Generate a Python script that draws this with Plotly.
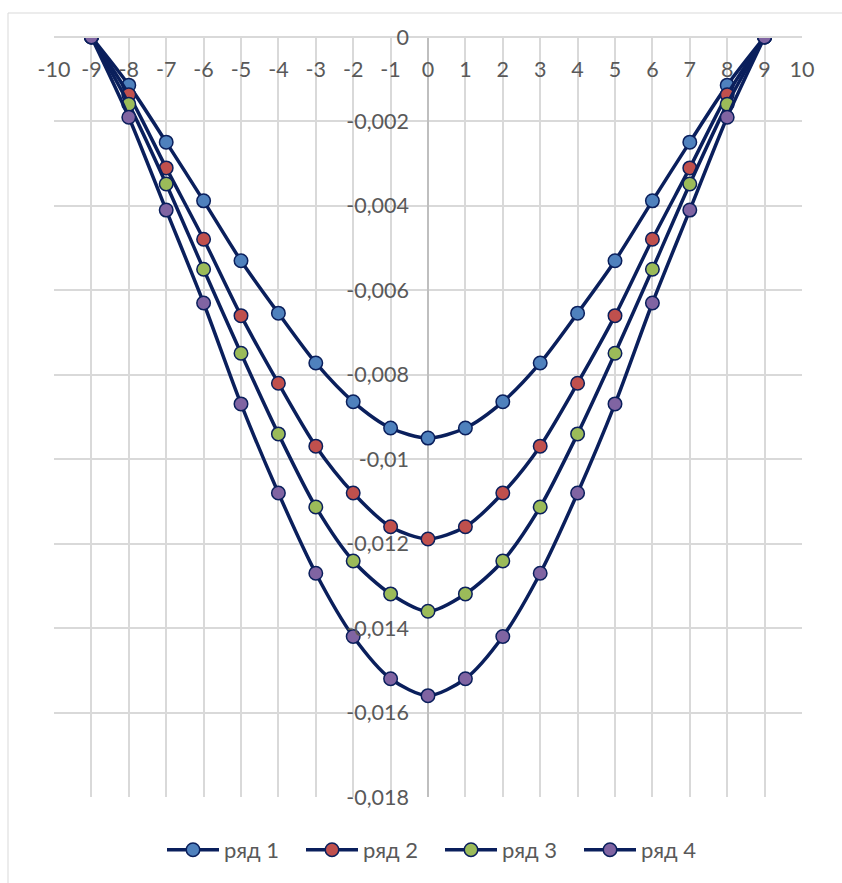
import plotly.graph_objects as go

x_vals = [-9, -8, -7, -6, -5, -4, -3, -2, -1, 0, 1, 2, 3, 4, 5, 6, 7, 8, 9]

series_names = ["ряд 1", "ряд 2", "ряд 3", "ряд 4"]

row1 = [0, -0.00114, -0.00249, -0.00388, -0.0053, -0.00654, -0.00772, -0.00864, -0.00926, -0.0095,
        -0.00926, -0.00864, -0.00772, -0.00654, -0.0053, -0.00388, -0.00249, -0.00114, 0]
row2 = [0, -0.00137, -0.0031, -0.00479, -0.0066, -0.0082, -0.00969, -0.0108, -0.0116, -0.01189,
        -0.0116, -0.0108, -0.00969, -0.0082, -0.0066, -0.00479, -0.0031, -0.00137, 0]
row3 = [0, -0.00159, -0.00348, -0.0055, -0.00749, -0.0094, -0.01113, -0.01241, -0.01319, -0.0136,
        -0.01319, -0.01241, -0.01113, -0.0094, -0.00749, -0.0055, -0.00348, -0.00159, 0]
row4 = [0, -0.0019, -0.0041, -0.0063, -0.00869, -0.0108, -0.0127, -0.0142, -0.0152, -0.0156,
        -0.0152, -0.0142, -0.0127, -0.0108, -0.00869, -0.0063, -0.0041, -0.0019, 0]

x_tickvals = list(range(-10, 11))
x_ticktext = [str(v) for v in x_tickvals]
y_tickvals = [0, -0.002, -0.004, -0.006, -0.008, -0.01, -0.012, -0.014, -0.016, -0.018]
y_ticktext = ["0", "-0,002", "-0,004", "-0,006", "-0,008", "-0,01", "-0,012", "-0,014", "-0,016", "-0,018"]

marker_colors = ["#4F81BD", "#C0504D", "#9BBB59", "#8064A2"]
line_color = "#0A1F5C"

fig = go.Figure()
for name, vals, mc in zip(series_names, [row1, row2, row3, row4], marker_colors):
    fig.add_trace(go.Scatter(
        x=x_vals, y=vals, name=name, mode="lines+markers",
        line=dict(color=line_color, width=3.5, shape="spline", smoothing=0.8),
        marker=dict(size=13.5, color=mc, line=dict(color=line_color, width=1.5)),
    ))

W, H = 842, 883
ml, mr, mt, mb = 54, 40, 37, 86
pw, ph = W - ml - mr, H - mt - mb

grid = "#D9D9D9"
axis_c = "#BFBFBF"
txt = "#595959"
fsize = 21.5

fig.update_layout(
    width=W, height=H,
    margin=dict(l=ml, r=mr, t=mt, b=mb, autoexpand=False),
    paper_bgcolor="white", plot_bgcolor="white",
    font=dict(family="Lato, Carlito, sans-serif", size=fsize, color=txt),
    showlegend=True,
    legend=dict(orientation="h", x=0.5 + 12 / pw, xanchor="center", y=-(850 - (H - mb)) / ph, yanchor="middle",
                font=dict(size=22, color=txt), itemwidth=52,
                entrywidth=72, entrywidthmode="pixels", traceorder="normal"),
    xaxis=dict(
        range=[-10, 10], tickvals=x_tickvals, ticktext=x_ticktext,
        anchor="free", position=1, side="bottom", ticks="", ticklabelstandoff=13,
        showgrid=True, gridcolor=grid, gridwidth=1.5,
        zeroline=True, zerolinecolor=axis_c, zerolinewidth=1.5,
        showline=True, linecolor=grid, linewidth=1.5, mirror=False,
        tickfont=dict(size=fsize, color=txt),
    ),
    yaxis=dict(
        range=[-0.018, 0.0000001], tickvals=y_tickvals, ticktext=y_ticktext,
        anchor="free", position=0.5, side="left", ticks="", ticklabelstandoff=19,
        showgrid=True, gridcolor=grid, gridwidth=1.5,
        zeroline=False, showline=False,
        tickfont=dict(size=fsize, color=txt),
    ),
    shapes=[dict(type="rect", xref="paper", yref="paper",
                 x0=(8 - ml) / pw, x1=(W + 10 - ml) / pw,
                 y0=-(H + 10 - (H - mb)) / ph, y1=((H - mb) - 13) / ph,
                 line=dict(color=grid, width=1), layer="below")],
)

fig.write_html("out.html")
